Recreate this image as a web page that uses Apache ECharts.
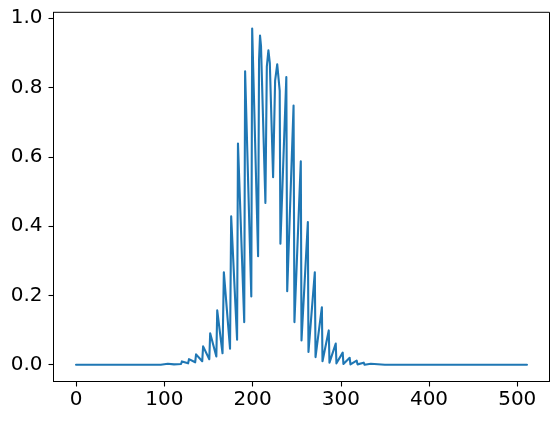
<!DOCTYPE html>
<html>
<head>
<meta charset="utf-8">
<script src="https://cdn.jsdelivr.net/npm/echarts@6/dist/echarts.min.js"></script>
<style>
html,body{margin:0;padding:0;background:#fff;}
#chart{width:558px;height:421px;}
</style>
</head>
<body>
<div id="chart"></div>
<script>
// Key points (sample index, amplitude)
const xs = [0, 96, 104, 111, 112, 119, 120, 127, 128, 135, 136, 143, 144, 151, 152, 159, 160, 166, 167.5, 174.5, 175.8, 182.5, 183.5, 190.6, 191.6, 198.6, 199.6,
  206.3, 207.4, 208.5, 209.6, 214.6, 216.2, 218.0, 219.6, 223.3, 225.6, 228.0, 230.8, 231.6,
  238.3, 239.3, 246.5, 247.5, 254.7, 255.5, 262.7, 263.4, 270.6, 271.4, 278.6, 279.3, 286.4, 287.2, 294.3, 295.1, 302.2, 303.0, 310.1, 311.0, 318.0, 319.0, 326.0, 327.0, 334.0, 335.0, 342.0, 350.0, 511];
const ys = [0, 0.0, 0.003, 0.001, 0.006, 0.002, 0.0095, 0.004, 0.016, 0.007, 0.030, 0.010, 0.053, 0.016, 0.091, 0.024, 0.157, 0.033, 0.267, 0.046, 0.428, 0.072, 0.638, 0.123, 0.847, 0.197, 0.970,
  0.313, 0.880, 0.950, 0.920, 0.467, 0.860, 0.907, 0.870, 0.541, 0.820, 0.867, 0.790, 0.349,
  0.830, 0.212, 0.748, 0.123, 0.587, 0.070, 0.412, 0.037, 0.267, 0.022, 0.166, 0.010, 0.099, 0.006, 0.061, 0.004, 0.035, 0.002, 0.020, 0.001, 0.012, 0.001, 0.006, 0.0, 0.003, 0.0, 0.0015, 0.0, 0];
const xTicks = [0, 100, 200, 300, 400, 500];
const yTicks = [0.0, 0.2, 0.4, 0.6, 0.8, 1.0];

const data = xs.map((x, i) => [x, ys[i]]);
const chart = echarts.init(document.getElementById('chart'), null, {renderer: 'canvas'});
const font = 'DejaVu Sans';
chart.setOption({
  animation: false,
  grid: {left: 53.5, right: 8.5, top: 12.3, bottom: 39.5, show: true, borderColor: '#000', borderWidth: 1, backgroundColor: 'transparent'},
  xAxis: {
    type: 'value', min: -25.55, max: 536.55,
    axisLine: {show: true, onZero: false, lineStyle: {color: '#000', width: 1}},
    axisTick: {show: true, length: 5, lineStyle: {color: '#000', width: 1.1}, customValues: xTicks},
    axisLabel: {show: true, customValues: xTicks, margin: 8, color: '#000', fontFamily: font, fontSize: 20, formatter: v => String(Math.round(v))},
    splitLine: {show: false}
  },
  yAxis: {
    type: 'value', min: -0.0484, max: 1.0169,
    axisLine: {show: true, onZero: false, lineStyle: {color: '#000', width: 1}},
    axisTick: {show: true, length: 5, lineStyle: {color: '#000', width: 1.1}, customValues: yTicks},
    axisLabel: {show: true, customValues: yTicks, margin: 11, color: '#000', fontFamily: font, fontSize: 20, formatter: v => v.toFixed(1)},
    splitLine: {show: false}
  },
  series: [{
    type: 'line', data: data, showSymbol: false, smooth: false,
    lineStyle: {color: '#1f77b4', width: 2.1, join: 'round', cap: 'round'},
    emphasis: {disabled: true}
  }]
});
</script>
</body>
</html>
